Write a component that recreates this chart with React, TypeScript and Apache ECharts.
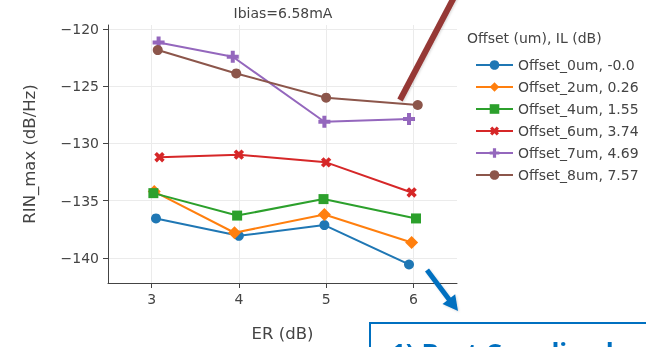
import React, { useEffect, useRef } from "react";
import * as echarts from "echarts";

const seriesNames = [
  "Offset_0um, -0.0",
  "Offset_2um, 0.26",
  "Offset_4um, 1.55",
  "Offset_6um, 3.74",
  "Offset_7um, 4.69",
  "Offset_8um, 7.57",
];
const erValues = [
  [3.05, 4.0, 4.98, 5.95],
  [3.03, 3.95, 4.98, 5.98],
  [3.02, 3.98, 4.97, 6.03],
  [3.09, 4.0, 5.0, 5.98],
  [3.08, 3.93, 4.98, 5.95],
  [3.07, 3.97, 5.0, 6.05],
];
const rinValues = [
  [-136.55, -138.07, -137.13, -140.57],
  [-134.2, -137.8, -136.2, -138.65],
  [-134.34, -136.3, -134.86, -136.55],
  [-131.2, -130.98, -131.65, -134.28],
  [-121.17, -122.42, -128.1, -127.87],
  [-121.84, -123.88, -126.0, -126.64],
];
const colors = ["#1f77b4", "#ff7f0e", "#2ca02c", "#d62728", "#9467bd", "#8c564b"];
const xTicks = [3, 4, 5, 6];
const yTicks = [-140, -135, -130, -125, -120];

const PLUS = "path://M-1,-3H1V-1H3V1H1V3H-1V1H-3V-1H-1Z";
const symbols = ["circle", "diamond", "rect", PLUS, PLUS, "circle"];
const symbolRot = [0, 0, 0, 45, 0, 0];
const symbolSizes = [10, 13, 10, 11, 12, 10];

const FONT = "'DejaVu Sans', Verdana, sans-serif";

export default function App() {
  const ref = useRef<HTMLDivElement>(null);
  useEffect(() => {
    if (!ref.current) return;
    const chart = echarts.init(ref.current, undefined, { renderer: "svg" });
    const tipX = 458, tipY = 311;
    const dx = 0.61, dy = 0.79;
    const px = -dy, py = dx;
    const headLen = 15, headHalf = 8;
    const bx = tipX - headLen * dx, by = tipY - headLen * dy;
    chart.setOption({
      animation: false,
      textStyle: { fontFamily: FONT },
      grid: { left: 108, top: 25, width: 349, height: 258, containLabel: false },
      xAxis: {
        type: "value",
        min: 2.5,
        max: 6.5,
        name: "ER (dB)",
        nameLocation: "middle",
        nameGap: 42,
        nameTextStyle: { fontSize: 16.5, color: "#444", fontFamily: FONT },
        axisLine: { show: true, lineStyle: { color: "#444", width: 1 } },
        axisTick: { show: true, length: 5, lineStyle: { color: "#444" }, customValues: xTicks },
        axisLabel: { customValues: xTicks, fontSize: 14, color: "#444", margin: 9, fontFamily: FONT },
        splitLine: { show: true, lineStyle: { color: "#ebebeb", width: 1 } },
      },
      yAxis: {
        type: "value",
        min: -142.19,
        max: -119.65,
        name: "RIN_max (dB/Hz)",
        nameLocation: "middle",
        nameGap: 70,
        nameTextStyle: { fontSize: 16.5, color: "#444", fontFamily: FONT },
        axisLine: { show: true, lineStyle: { color: "#444", width: 1 } },
        axisTick: { show: true, length: 5, lineStyle: { color: "#444" }, customValues: yTicks },
        axisLabel: {
          customValues: yTicks,
          fontSize: 14,
          color: "#444",
          margin: 9,
          fontFamily: FONT,
          formatter: (v: number) => String(v).replace("-", "\u2212"),
        },
        splitLine: { show: true, lineStyle: { color: "#ebebeb", width: 1 } },
      },
      legend: {
        orient: "vertical",
        left: 470,
        top: 53,
        itemWidth: 37,
        itemHeight: 12,
        itemGap: 8,
        textStyle: { fontSize: 14, color: "#444", fontFamily: FONT },
        data: seriesNames,
      },
      series: seriesNames.map((name, i) => ({
        name,
        type: "line",
        data: erValues[i].map((x, j) => [x, rinValues[i][j]]),
        symbol: symbols[i],
        symbolSize: symbolSizes[i],
        symbolRotate: symbolRot[i],
        showAllSymbol: true,
        color: colors[i],
        lineStyle: { width: 2, color: colors[i] },
        itemStyle: { color: colors[i] },
        z: 2 + i,
      })),
      graphic: [
        {
          type: "text",
          x: 283,
          y: 13,
          style: {
            text: "Ibias=6.58mA",
            fontSize: 14,
            fill: "#444",
            fontFamily: FONT,
            align: "center",
            verticalAlign: "middle",
          },
        },
        {
          type: "text",
          x: 467,
          y: 38,
          style: {
            text: "Offset (um), IL (dB)",
            fontSize: 14,
            fill: "#444",
            fontFamily: FONT,
            align: "left",
            verticalAlign: "middle",
          },
        },
        {
          type: "line",
          z: 100,
          shape: { x1: 400, y1: 100, x2: 460, y2: -14 },
          style: {
            stroke: "#953735",
            lineWidth: 6,
            shadowBlur: 2,
            shadowColor: "rgba(0,0,0,0.15)",
            shadowOffsetX: 1,
            shadowOffsetY: 1,
          },
        },
        {
          type: "line",
          z: 100,
          shape: { x1: 427, y1: 270, x2: bx + dx * 2, y2: by + dy * 2 },
          style: {
            stroke: "#0070C0",
            lineWidth: 5,
            shadowBlur: 2,
            shadowColor: "rgba(0,0,0,0.15)",
            shadowOffsetX: 1,
            shadowOffsetY: 1,
          },
        },
        {
          type: "polygon",
          z: 100,
          shape: {
            points: [
              [tipX, tipY],
              [bx + headHalf * px, by + headHalf * py],
              [bx - headHalf * px, by - headHalf * py],
            ],
          },
          style: {
            fill: "#0070C0",
            shadowBlur: 2,
            shadowColor: "rgba(0,0,0,0.15)",
            shadowOffsetX: 1,
            shadowOffsetY: 1,
          },
        },
        {
          type: "rect",
          z: 100,
          shape: { x: 370, y: 323, width: 300, height: 60 },
          style: { fill: "#ffffff", stroke: "#0070C0", lineWidth: 2 },
        },
        {
          type: "text",
          z: 101,
          x: 391,
          y: 340,
          style: {
            text: "1) Best Coupling loss",
            fontSize: 26,
            fontWeight: "bold",
            fill: "#0070C0",
            fontFamily: "'Open Sans', 'Liberation Sans', sans-serif",
            align: "left",
            verticalAlign: "top",
          },
        },
      ],
    });
    return () => chart.dispose();
  }, []);
  return (
    <div
      ref={ref}
      style={{ position: "fixed", left: 0, top: 0, width: 646, height: 347 }}
    />
  );
}
